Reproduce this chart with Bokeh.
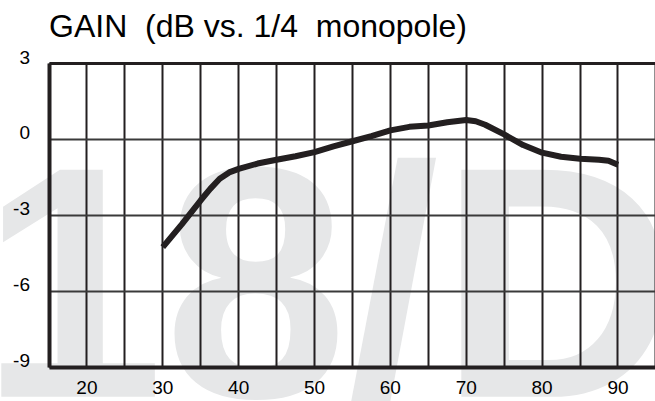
from bokeh.plotting import figure
from bokeh.models import FixedTicker, LinearAxis, Grid, Range1d
from bokeh.core.properties import value
from bokeh.embed import file_html
from bokeh.resources import INLINE

# ---- data ----
freq = [30, 32.5, 35, 36.25, 37.5, 38.75, 40, 42.5, 45, 47.5, 50, 52.5, 55,
        57.5, 60, 62.5, 65, 67.5, 70, 71.25, 72.5, 75, 77.5, 80, 82.5, 85,
        87.5, 88.75, 90]
gain = [-4.25, -3.35, -2.4, -1.95, -1.55, -1.3, -1.16, -0.95, -0.8, -0.66,
        -0.5, -0.27, -0.07, 0.13, 0.36, 0.5, 0.55, 0.68, 0.77, 0.72, 0.58,
        0.2, -0.22, -0.52, -0.68, -0.76, -0.8, -0.84, -1.0]
x_tick_values = [20, 30, 40, 50, 60, 70, 80, 90]
x_grid_values = [15, 20, 25, 30, 35, 40, 45, 50, 55, 60, 65, 70, 75, 80, 85, 90, 95]
y_tick_values = [-9, -6, -3, 0, 3]
y_tick_labels = ["-9", "-6", "-3", "0", "3"]
x_bounds = (15, 95)
y_bounds = (-9, 3)
title_text = "GAIN\u00a0 (dB vs. 1/4\u00a0 monopole)"
watermark_text = "18/D"

# ---- layout / style constants ----
W, H = 655, 401
PLOT_LEFT_PX = 48.5      # where x = 15 sits
PLOT_TOP_PX = 63.0       # where y = 3 sits
PX_PER_X = 7.586
PX_PER_Y = 25.33
LABEL_LIFT_PX = 6.5      # y labels sit slightly above their grid lines
BASELINE_FIX = 0.355     # em: compensates the text baseline placement
INK = "#231f20"
FONT = "Liberation Sans"

x0 = x_bounds[0] - PLOT_LEFT_PX / PX_PER_X
y1 = y_bounds[1] + PLOT_TOP_PX / PX_PER_Y
x_range = Range1d(x0, x0 + W / PX_PER_X)
y_range = Range1d(y1 - H / PX_PER_Y, y1)

p = figure(width=W, height=H, x_range=x_range, y_range=y_range,
           x_axis_type=None, y_axis_type=None,
           output_backend="svg", toolbar_location=None, min_border=0)
p.title = None
p.outline_line_color = None
p.background_fill_color = "white"
p.border_fill_color = "white"

# watermark (behind everything)
WM_SIZE = 330
p.text(x=[x0 - 20 / PX_PER_X],
       y=[y1 - (399 - BASELINE_FIX * WM_SIZE) / PX_PER_Y],
       text=[watermark_text],
       text_font=value(FONT), text_font_style="bold",
       text_font_size=f"{WM_SIZE}px",
       text_color="#e6e7e8", text_align="left", text_baseline="alphabetic",
       level="image")

# grid
p.add_layout(Grid(dimension=0, ticker=FixedTicker(ticks=x_grid_values),
                  bounds=x_bounds, cross_bounds=y_bounds,
                  grid_line_color=INK, grid_line_width=2))
p.add_layout(Grid(dimension=1, ticker=FixedTicker(ticks=y_tick_values),
                  bounds=y_bounds, cross_bounds=x_bounds,
                  grid_line_color="#3a3a3a", grid_line_width=2))
# top border
p.add_layout(Grid(dimension=1, ticker=FixedTicker(ticks=[y_bounds[1]]),
                  bounds=y_bounds, cross_bounds=x_bounds,
                  grid_line_color=INK, grid_line_width=3))

def style_axis(ax):
    ax.major_tick_line_color = None
    ax.minor_tick_line_color = None
    ax.major_tick_out = 0
    ax.major_tick_in = 0
    ax.major_label_text_font = FONT
    ax.major_label_text_font_size = "19px"
    ax.major_label_text_color = "black"

# bottom axis (border + labels)
xaxis = LinearAxis(fixed_location=y_bounds[0], bounds=x_bounds,
                   ticker=FixedTicker(ticks=x_tick_values),
                   axis_line_color=INK, axis_line_width=4,
                   major_label_standoff=14)
style_axis(xaxis)
p.add_layout(xaxis, "below")

# left axis line (border)
yline = LinearAxis(fixed_location=x_bounds[0], bounds=y_bounds,
                   ticker=FixedTicker(ticks=[]),
                   axis_line_color=INK, axis_line_width=4)
style_axis(yline)
p.add_layout(yline, "left")

# left labels, lifted a little above their grid lines as in the original
lift = LABEL_LIFT_PX / PX_PER_Y
label_pos = [v + lift for v in y_tick_values]
ylab = LinearAxis(fixed_location=x_bounds[0],
                  ticker=FixedTicker(ticks=label_pos),
                  major_label_overrides=dict(zip(label_pos, y_tick_labels)),
                  axis_line_color=None, major_label_standoff=19)
style_axis(ylab)
p.add_layout(ylab, "left")

# title
TITLE_SIZE = 32
p.text(x=[x_bounds[0]], y=[y1 - (37 - BASELINE_FIX * TITLE_SIZE) / PX_PER_Y],
       text=[title_text],
       text_font=value(FONT), text_font_size=f"{TITLE_SIZE}px",
       text_color="black", text_align="left", text_baseline="alphabetic")

# curve
p.line(freq, gain, line_color=INK, line_width=6, line_join="round")

open("out.html", "w").write(file_html(p, INLINE))
